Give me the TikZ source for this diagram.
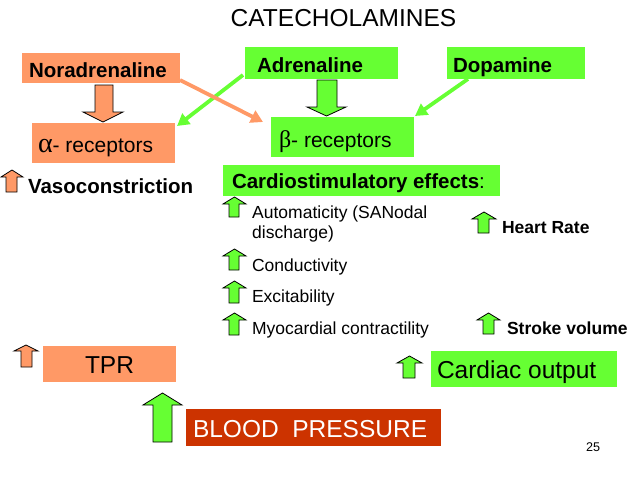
\documentclass[tikz,border=0pt]{standalone}
\usepackage{fontspec}
\setmainfont{Liberation Sans}
\newfontfamily\symfont{Liberation Serif}
\usetikzlibrary{arrows.meta}
\definecolor{salmon}{HTML}{FF9966}
\definecolor{lgreen}{HTML}{66FF33}
\definecolor{bpred}{HTML}{CC3300}
% block arrow: style, headL, headR, shaftL, shaftR, tipY, shoulderY, baseY
\newcommand\BUp[8]{\draw[#1] (#4,#8) -- (#4,#7) -- (#2,#7) -- ({(#2+#3)/2},#6) -- (#3,#7) -- (#5,#7) -- (#5,#8) -- cycle;}
\begin{document}
\begin{tikzpicture}[x=1pt,y=-1pt,
  box/.style={anchor=north west, inner sep=0pt, outer sep=0pt},
  obox/.style={box, fill=salmon},
  gbox/.style={box, fill=lgreen},
  rbox/.style={box, fill=bpred},
  lbl/.style={anchor=base west, inner sep=0pt, outer sep=0pt},
  bigb/.style={font=\fontsize{20.5}{24}\selectfont\bfseries},
  rec/.style={font=\fontsize{21}{24}\selectfont},
  itm/.style={font=\fontsize{17.5}{20}\selectfont},
  itmb/.style={font=\fontsize{17.5}{20}\selectfont\bfseries},
  large/.style={font=\fontsize{24.5}{28}\selectfont},
  oarr/.style={fill=salmon, draw=black, line width=0.8pt, line join=miter},
  garr/.style={fill=lgreen, draw=black, line width=0.8pt, line join=miter},
  gline/.style={draw=lgreen, line width=3.8pt, -{Triangle[length=12pt,width=13pt]}},
  oline/.style={draw=salmon, line width=3.8pt, -{Triangle[length=12pt,width=13pt]}}
]
\useasboundingbox (0,0) rectangle (638,479);

% title
\node[anchor=base, inner sep=0pt, large] (title) at (343.5,27) {CATECHOLAMINES};

% top boxes
\node[obox, minimum width=158pt, minimum height=30pt] (nor) at (22,53) {};
\node[lbl, bigb] (nort) at (29,77) {Noradrenaline};
\node[gbox, minimum width=153pt, minimum height=32pt] (adr) at (245,47) {};
\node[lbl, bigb] (adrt) at (257,72) {Adrenaline};
\node[gbox, minimum width=138pt, minimum height=32pt] (dop) at (447,47) {};
\node[lbl, bigb] (dopt) at (453,72) {Dopamine};

% receptors
\node[obox, minimum width=143pt, minimum height=40pt] (alpha) at (32,123) {};
\node[lbl, rec] (alphat) at (38,152) {{\fontsize{28}{28}\symfont α}- receptors};
\node[gbox, minimum width=143pt, minimum height=40pt] (beta) at (271,117) {};
\node[lbl, rec] (betat) at (279,147) {{\fontsize{24}{24}\symfont β}- receptors};

% block arrows down
\BUp{oarr}{83}{123}{95}{113}{122}{112}{85}
\BUp{garr}{307}{346}{317}{337}{116}{107}{80}

% line arrows
\draw[gline] ([xshift=-2pt,yshift=4pt]adr.south west) -- ([xshift=2pt,yshift=-3pt]alpha.north east);
\draw[oline] ([yshift=3pt]nor.south east) -- ([xshift=-8pt,yshift=-5pt]beta.north west);
\draw[gline] ([xshift=21pt]dop.south west) -- ([xshift=1pt,yshift=1pt]beta.north east);

% vasoconstriction
\BUp{oarr}{1}{23}{6}{17}{170}{177}{192}
\node[lbl, bigb] (vaso) at (28,193) {Vasoconstriction};

% cardiostimulatory
\node[gbox, minimum width=277pt, minimum height=31pt] (cardio) at (223,165) {};
\node[lbl, font=\fontsize{20.5}{24}\selectfont] (cardiot) at (232,188) {\textbf{Cardiostimulatory effects}:};

% items
\BUp{garr}{223}{246}{229}{239}{197}{204}{217}
\node[anchor=north west, inner sep=0pt, itm, align=left] (auto) at (252,205.5) {Automaticity (SANodal\\discharge)};
\BUp{garr}{223}{246}{229}{239}{249}{256}{270}
\node[lbl, itm] (cond) at (252,271) {Conductivity};
\BUp{garr}{223}{246}{229}{239}{281}{288}{303}
\node[lbl, itm] (exc) at (252,302) {Excitability};
\BUp{garr}{223}{246}{229}{239}{313}{320}{335}
\node[lbl, itm] (myo) at (252,334) {Myocardial contractility};

\BUp{garr}{472}{496}{478}{489}{212}{219}{233}
\node[lbl, itmb] (hr) at (502,233) {Heart Rate};
\BUp{garr}{477}{500}{483}{494}{313}{320}{334}
\node[lbl, itmb] (sv) at (507,334) {Stroke volume};

% TPR
\BUp{oarr}{14}{38}{21}{32}{345}{351}{367}
\node[obox, minimum width=133pt, minimum height=36pt] (tpr) at (43,346) {};
\node[lbl, large] (tprt) at (85,373) {TPR};

% Cardiac output
\BUp{garr}{397}{422}{403}{415}{356}{363}{378}
\node[gbox, minimum width=186pt, minimum height=36pt] (co) at (431,351) {};
\node[lbl, large] (cot) at (437,378) {Cardiac output};

% Blood pressure
\BUp{garr}{143}{182}{153}{172}{393}{405}{442}
\node[rbox, minimum width=255pt, minimum height=37pt] (bp) at (186,409) {};
\node[lbl, large, text=white] (bpt) at (193,437) {BLOOD\ \ PRESSURE};

% page number
\node[lbl, font=\fontsize{12.6}{14}\selectfont] (pg) at (586,451) {25};
\end{tikzpicture}
\end{document}
